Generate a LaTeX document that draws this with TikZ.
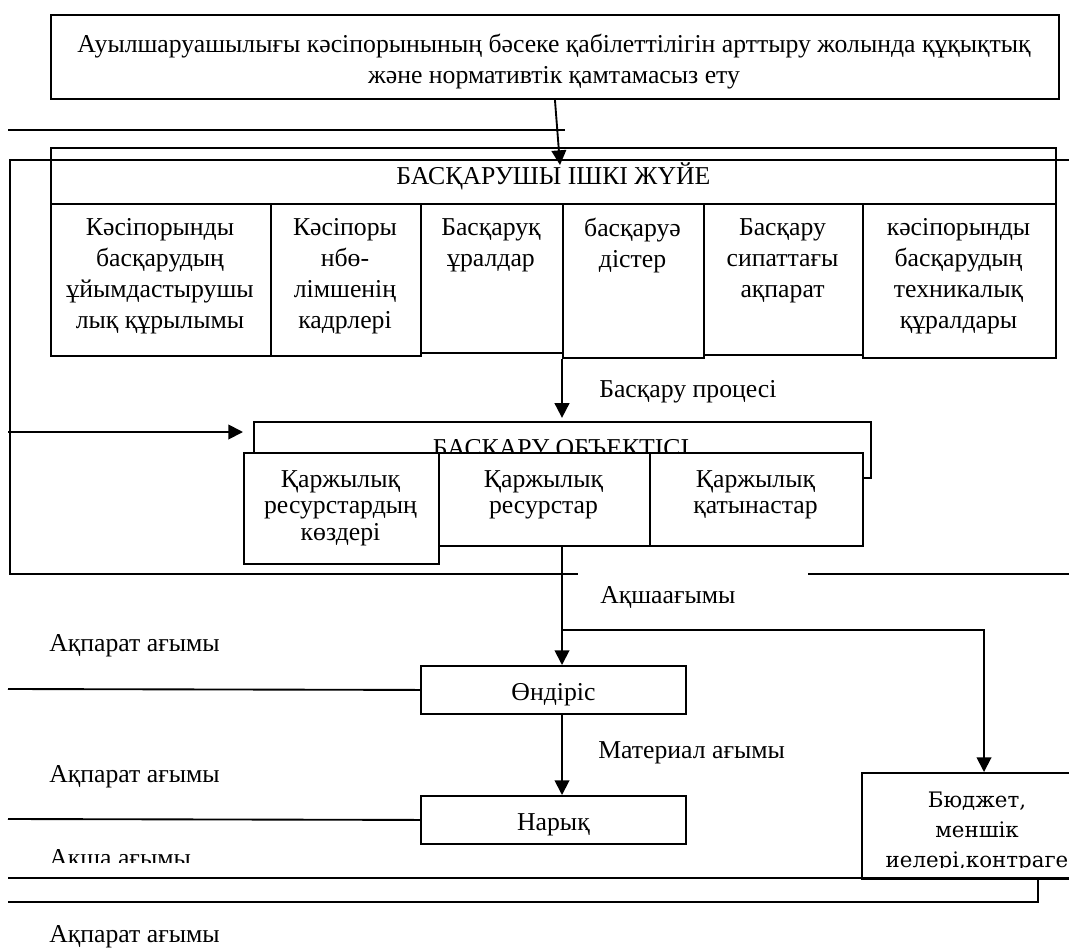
\documentclass[tikz,border=0pt]{standalone}
\usepackage{fontspec}
\setmainfont{Liberation Serif}
\newfontfamily\budgetfont{DejaVu Serif}
\usetikzlibrary{arrows.meta,positioning}
\newcommand{\kz}{\fontsize{19.3}{23.3}\selectfont}
\newcommand{\kzs}{\fontsize{19.3}{20}\selectfont}

\begin{document}
\begin{tikzpicture}[x=0.75pt,y=-0.75pt,
  box/.style={draw,line width=1.4pt,fill=white,inner sep=0pt,anchor=north west},
  flowbox/.style={box,minimum width=198.75pt,minimum height=36pt,font=\kz,text height=16.5pt,text depth=0pt},
  txt/.style={font=\kz,align=center,inner sep=0pt},
  fintxt/.style={txt,font=\kzs},
  lbl/.style={font=\kz,inner sep=0pt,anchor=base west},
  flow/.style={line width=1.4pt},
  arr/.style={flow,-{Triangle[length=11pt,width=11pt]}}]
\useasboundingbox (0,0) rectangle (1069,949);

\node[box,minimum width=756pt,minimum height=63pt] (goal) at (50,14) {};
\node[txt] (goal-t) at (554,62) {Ауылшаруашылығы кәсіпорынының бәсеке қабілеттілігін арттыру жолында құқықтық\\және нормативтік қамтамасыз ету};

\node[box,minimum width=753.75pt,minimum height=42pt,font=\kz] (ctrl) at (50,147) {БАСҚАРУШЫ ІШКІ ЖҮЙЕ};
\foreach \n/\xa/\xb/\yb/\t in {
  c1/50/270/355/{Кәсіпорынды\\басқарудың\\ұйымдастырушы\\лық құрылымы},
  c2/270/420/355/{Кәсіпоры\\нбө-\\лімшенің\\кадрлері},
  c3/420/562/352/{Басқаруқ\\ұралдар},
  c4/562/703/357/{басқаруә\\дістер},
  c5/703/862/354/{Басқару\\сипаттағы\\ақпарат},
  c6/862/1055/357/{кәсіпорынды\\басқарудың\\техникалық\\құралдары}}{%
  \node[box,minimum width={(\xb-\xa)*0.75pt},minimum height={(\yb-203)*0.75pt}] (\n) at (\xa,203) {};
  \node[txt,anchor=north] (\n-t) at ({(\xa+\xb)/2},218) {\t};}

\coordinate (fr1) at (1069,160); \coordinate (fr2) at (10,160);
\coordinate (fr3) at (10,574); \coordinate (fr4) at (578,574);
\coordinate (fr5) at (808,574); \coordinate (fr6) at (1069,574);
\draw[flow] (fr1) -- (fr2) -- (fr3) -- (fr4);
\draw[flow] (fr5) -- (fr6);

\coordinate (infoA) at (8,130); \coordinate (infoA-end) at (565,130);
\draw[flow] (infoA) -- (infoA-end);
\coordinate (ctrl-in) at (560,165);
\draw[arr] (goal.south) -- (ctrl-in);

\node[draw,line width=1.4pt,anchor=north west,inner sep=0pt,minimum width=462.75pt,minimum height=42pt] (obj) at (253,421) {};
\node[font=\kz,inner sep=0pt,anchor=base] (obj-t) at (561,456) {БАСҚАРУ ОБЪЕКТІСІ};
\foreach \n/\xa/\xb/\yb/\t in {
  fa/243/438/563/{Қаржылық\\ресурстардың\\көздері},
  fb/438/649/545/{Қаржылық\\ресурстар},
  fc/649/862/545/{Қаржылық\\қатынастар}}{%
  \node[box,minimum width={(\xb-\xa)*0.75pt},minimum height={(\yb-452)*0.75pt}] (\n) at (\xa,452) {};
  \node[fintxt,anchor=north] (\n-t) at ({(\xa+\xb)/2},470) {\t};}

\coordinate (obj-src) at (8,432); \coordinate (obj-in) at (243,432);
\draw[arr] (obj-src) -- (obj-in);
\draw[arr] (c4.south west) -- ++(0,59);
\node[lbl] (proc) at (599,397) {Басқару процесі};

\node[flowbox] (prod) at (420,665) {Өндіріс};
\node[flowbox] (mkt) at (420,795) {Нарық};
\node[box,minimum width=174pt,minimum height=79.5pt] (budget) at (861,772) {};
\begin{scope}
  \clip (861,772) rectangle (1069,867);
  \node[font=\budgetfont\fontsize{16}{22.5}\selectfont,align=center,inner sep=0pt,anchor=north] (budget-t) at (977,792) {Бюджет,\\меншік\\иелері,контраге\\нттер};
\end{scope}

\coordinate (split) at (562,630);
\draw[arr] (split |- fb.south) -- (split |- prod.north);
\draw[arr] (split) -| (984,772);
\draw[arr] (split |- prod.south) -- (split |- mkt.north);
\node[lbl] (cash-l) at (600,603) {Ақшаағымы};
\node[lbl] (mat-l) at (598,758) {Материал ағымы};

\coordinate (infoB) at (8,689); \coordinate (infoC) at (8,819);
\draw[flow] (infoB) -- (prod.west);
\draw[flow] (infoC) -- (mkt.west);
\coordinate (cashL) at (8,878); \coordinate (cashR) at (1069,878);
\draw[flow] (cashL) -- (cashR);
\coordinate (retR) at (1038,878); \coordinate (retL) at (8,902);
\draw[flow] (retR) |- (retL);

\node[lbl] (info1) at (49,651) {Ақпарат ағымы};
\node[lbl] (info2) at (49,782) {Ақпарат ағымы};
\node[lbl] (info3) at (49,942) {Ақпарат ағымы};
\begin{scope}
  \clip (0,835) rectangle (400,862);
  \node[lbl] (cash2-l) at (49,866) {Ақша ағымы};
\end{scope}
\end{tikzpicture}
\end{document}
